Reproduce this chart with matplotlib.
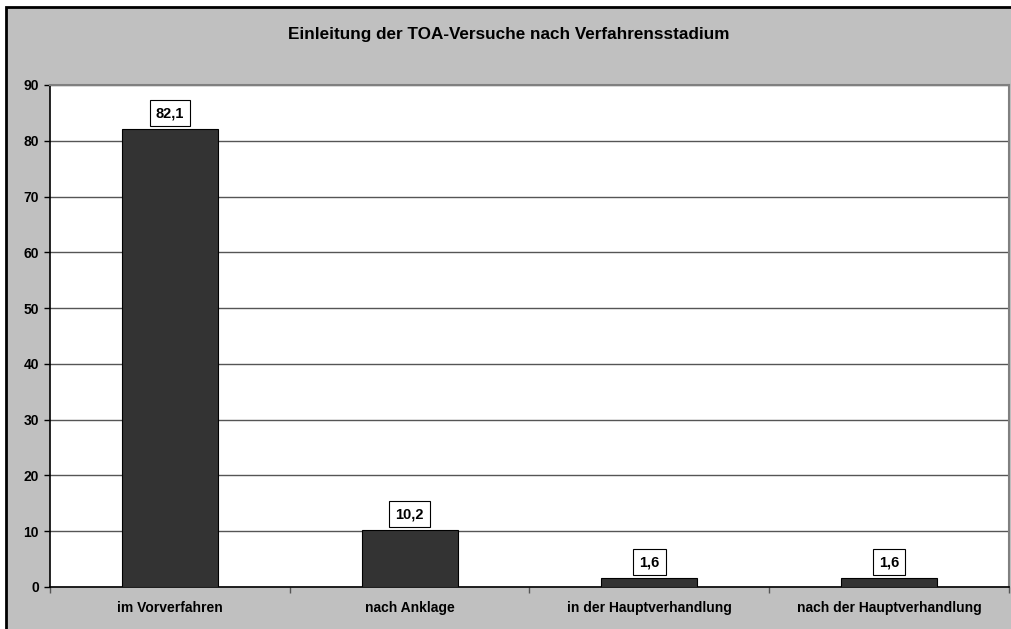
import matplotlib
matplotlib.use("Agg")
import matplotlib.pyplot as plt
from matplotlib.patches import Rectangle

categories = ["im Vorverfahren", "nach Anklage", "in der Hauptverhandlung", "nach der Hauptverhandlung"]
values = [82.1, 10.2, 1.6, 1.6]
value_labels = ["82,1", "10,2", "1,6", "1,6"]
yticks = [0, 10, 20, 30, 40, 50, 60, 70, 80, 90]
title = "Einleitung der TOA-Versuche nach Verfahrensstadium"

plt.rcParams['font.family'] = ['Liberation Sans', 'DejaVu Sans']

W, H = 1012, 629
fig = plt.figure(figsize=(W/100, H/100), dpi=100, facecolor='white')

# outer chart area (cropped at right/bottom)
bg = Rectangle((6/W, -0.05), 1.2, 1 - 7/H + 0.05, transform=fig.transFigure,
               facecolor='#c0c0c0', edgecolor='black', linewidth=2.0, zorder=-10)
fig.patches.append(bg)

left, right, top, bottom = 50, 1009, 85, 587
ax = fig.add_axes([left/W, 1 - bottom/H, (right-left)/W, (bottom-top)/H], zorder=5)
ax.set_facecolor('white')

x = list(range(len(categories)))
ax.bar(x, values, width=0.4, color='#333333', edgecolor='black', linewidth=0.8, zorder=3)

ax.set_xlim(-0.5, len(categories) - 0.5)
ax.set_ylim(0, 90)
ax.set_yticks(yticks)
ax.set_yticklabels([str(t) for t in yticks], fontsize=10, fontweight='bold')
ax.yaxis.grid(True, color='#555555', linewidth=1.0, zorder=1)
ax.set_axisbelow(True)

ax.set_xticks(x)
ax.set_xticklabels(categories, fontsize=10, fontweight='bold')
ax.tick_params(axis='x', length=0, pad=10)
ax.set_xticks([i - 0.5 for i in range(len(categories) + 1)], minor=True)
ax.tick_params(axis='x', which='minor', length=4, width=1, direction='out', color='#555555')
ax.tick_params(axis='y', length=4, width=1, direction='out', pad=4)

for s in ['top', 'right']:
    ax.spines[s].set_color('#808080')
    ax.spines[s].set_linewidth(1.5)
for s in ['left', 'bottom']:
    ax.spines[s].set_color('black')
    ax.spines[s].set_linewidth(1.2)

for xi, v, lab in zip(x, values, value_labels):
    ax.annotate(lab, (xi, v), xytext=(0, 11.5), textcoords='offset points',
                ha='center', va='center', fontsize=10.5, fontweight='bold', zorder=5,
                bbox=dict(boxstyle='square,pad=0.42', facecolor='white', edgecolor='black', linewidth=0.8))

fig.text(0.5 + 3/W, 1 - 34/H, title, ha='center', va='center', fontsize=12.3, fontweight='bold')

fig.savefig("out.png", dpi=100, facecolor=fig.get_facecolor())
